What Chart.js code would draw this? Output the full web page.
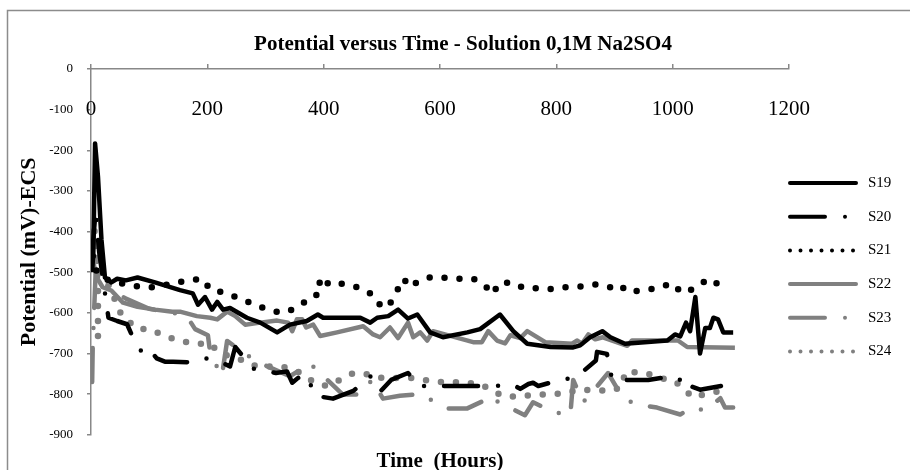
<!DOCTYPE html>
<html>
<head>
<meta charset="utf-8">
<script src="https://cdn.jsdelivr.net/npm/chart.js@4.4.1/dist/chart.umd.min.js"></script>
<style>
  html, body { margin: 0; padding: 0; background: #fff; overflow: hidden; }
</style>
</head>
<body>
<canvas id="canvas" width="910" height="470"></canvas>
<script>
// time in hours, potential in mV vs ECS
const s19Time = [2, 4, 7, 12, 18, 24, 35, 45, 60, 80, 110, 153, 175, 184, 196, 208, 217, 227, 239, 268, 291, 320, 342, 371, 390, 399, 463, 480, 492, 511, 528, 545, 561, 583, 605, 647, 669, 703, 726, 750, 790, 829, 841, 858, 879, 893, 918, 991, 1004, 1013, 1023, 1030, 1039, 1047, 1056, 1064, 1070, 1078, 1087, 1104];
const s19Mv = [-500, -450, -183, -265, -420, -513, -525, -516, -520, -513, -525, -544, -552, -580, -561, -592, -573, -592, -588, -612, -624, -648, -629, -620, -604, -612, -612, -624, -612, -608, -592, -614, -604, -648, -660, -648, -640, -604, -645, -676, -684, -685, -680, -660, -645, -660, -676, -668, -653, -658, -624, -645, -561, -700, -637, -637, -612, -616, -648, -648];

const s20Time = [2, 5, 8, 14, 30, 45, 62, 74, 89, 101, 113, 127, 141, 177, 199, 222, 239, 248, 279, 318, 337, 346, 356, 371, 385, 416, 451, 480, 497, 516, 545, 566, 629, 691, 726, 738, 752, 760, 769, 789, 825, 846, 868, 870, 887, 896, 920, 958, 999, 1013, 1022, 1030, 1047, 1083];
const s20Mv = [-455, -400, -347, -450, -612, -620, -628, -667, -700, -690, -712, -720, -720, -722, -712, -720, -732, -684, -737, -748, -744, -772, -760, -753, -804, -811, -792, -756, -794, -765, -748, -780, -780, -780, -777, -787, -775, -772, -780, -772, -760, -744, -717, -696, -701, -765, -765, -765, -756, -765, -789, -780, -789, -780];

const s21Time = [3, 10, 30, 60, 88, 110, 139, 165, 191, 206, 227, 253, 279, 303, 328, 347, 370, 387, 392, 399, 409, 437, 463, 485, 500, 512, 525, 537, 550, 561, 586, 604, 631, 657, 676, 690, 703, 729, 743, 760, 788, 813, 841, 868, 893, 908, 923, 949, 975, 999, 1016, 1040, 1061, 1082, 1095];
const s21Mv = [-460, -500, -520, -530, -537, -537, -528, -521, -516, -544, -549, -563, -578, -592, -600, -592, -571, -559, -523, -542, -523, -530, -539, -556, -587, -583, -549, -516, -537, -523, -511, -513, -516, -516, -530, -554, -525, -527, -539, -539, -542, -537, -535, -530, -537, -530, -549, -544, -539, -527, -551, -539, -516, -532, -544];

const s22Time = [3, 10, 20, 35, 55, 80, 110, 140, 153, 182, 205, 217, 234, 248, 265, 291, 320, 339, 346, 354, 363, 370, 382, 394, 423, 468, 485, 497, 514, 528, 545, 554, 566, 578, 588, 657, 672, 683, 698, 712, 721, 738, 750, 781, 827, 836, 844, 855, 867, 880, 896, 922, 930, 999, 1009, 1025, 1107];
const s22Mv = [-470, -513, -537, -545, -575, -585, -592, -597, -597, -608, -612, -616, -597, -608, -629, -624, -619, -624, -645, -616, -616, -636, -629, -657, -648, -633, -653, -660, -636, -662, -624, -660, -648, -668, -645, -672, -672, -645, -668, -675, -655, -662, -645, -672, -676, -668, -676, -653, -665, -660, -668, -681, -668, -668, -668, -684, -686];

const s23Time = [2, 3, 8, 29, 60, 100, 140, 160, 170, 179, 201, 205, 225, 234, 285, 342, 377, 433, 463, 483, 502, 531, 566, 612, 647, 674, 681, 746, 760, 793, 824, 829, 846, 863, 889, 915, 939, 973, 1013, 1034, 1056, 1082, 1090, 1104];
const s23Mv = [-770, -680, -500, -537, -565, -590, -600, -605, -620, -640, -655, -700, -756, -669, -720, -756, -725, -801, -801, -765, -811, -804, -800, -835, -835, -817, -805, -852, -820, -843, -852, -765, -820, -793, -748, -811, -825, -833, -850, -833, -840, -810, -833, -833];

const s24Time = [12, 12, 9, 7, 6, 12, 18, 30, 53, 81, 101, 127, 153, 179, 205, 222, 253, 277, 303, 328, 351, 385, 406, 428, 451, 466, 500, 523, 549, 571, 595, 621, 648, 672, 708, 734, 764, 789, 815, 841, 893, 913, 918, 930, 954, 978, 1004, 1035, 1064, 1085];
const s24Mv = [-657, -545, -473, -431, -395, -465, -508, -530, -608, -640, -640, -657, -669, -676, -676, -700, -712, -729, -732, -732, -740, -772, -780, -765, -748, -748, -760, -760, -760, -765, -770, -770, -772, -777, -805, -806, -801, -801, -797, -789, -792, -782, -746, -746, -748, -760, -768, -808, -797, -792];

const seriesNames = ['S19', 'S20', 'S21', 'S22', 'S23', 'S24'];
const xTicks = [0, 200, 400, 600, 800, 1000, 1200];
const chartTitle = 'Potential versus Time - Solution 0,1M Na2SO4';

const BLACK = '#000000';
const GREY = '#808080';
const AXIS = '#888888';
const FONT = '"Liberation Serif", "Times New Roman", serif';

function points(t, v) {
  return t.map((x, i) => ({ x: x, y: v[i] }));
}

// solid, dash-dot, dotted (black then grey)
const DASHDOT = [34, 20, 0, 20];
const DOTS = [0, 15];
const styles = [
  { color: BLACK, dash: [], width: 4.5, cap: 'butt', legendDash: [] },
  { color: BLACK, dash: DASHDOT, width: 4.5, cap: 'round', legendDash: [35, 20, 0, 20] },
  { color: BLACK, dash: DOTS, width: 6.5, cap: 'round', legendDash: [0, 10.5] },
  { color: GREY, dash: [], width: 4.5, cap: 'butt', legendDash: [] },
  { color: GREY, dash: DASHDOT, width: 4.5, cap: 'round', legendDash: [35, 20, 0, 20] },
  { color: GREY, dash: DOTS, width: 6.5, cap: 'round', legendDash: [0, 10.5] },
];

const allData = [
  points(s19Time, s19Mv),
  points(s20Time, s20Mv),
  points(s21Time, s21Mv),
  points(s22Time, s22Mv),
  points(s23Time, s23Mv),
  points(s24Time, s24Mv),
];

const decor = {
  id: 'decor',
  beforeDraw(chart) {
    const ctx = chart.ctx;
    ctx.save();
    ctx.fillStyle = '#fff';
    ctx.fillRect(0, 0, chart.width, chart.height);
    ctx.strokeStyle = '#8c8c8c';
    ctx.lineWidth = 1.5;
    ctx.strokeRect(7.5, 10.5, chart.width, chart.height);
    ctx.restore();
  },
  afterDraw(chart) {
    const ctx = chart.ctx;
    const area = chart.chartArea;
    const xs = chart.scales.x;
    ctx.save();
    ctx.fillStyle = '#000';
    ctx.font = 'bold 21px ' + FONT;
    ctx.textAlign = 'center';
    ctx.textBaseline = 'alphabetic';
    ctx.fillText(chartTitle, 463, 50);

    // x tick labels sit under the top axis line
    ctx.font = '21px ' + FONT;
    xTicks.forEach(v => {
      ctx.fillText(String(v), xs.getPixelForValue(v), 115);
    });

    // legend on the right
    ctx.font = '15px ' + FONT;
    ctx.textAlign = 'left';
    ctx.textBaseline = 'middle';
    seriesNames.forEach((name, i) => {
      const st = styles[i];
      const y = 183 + i * 33.7;
      ctx.beginPath();
      ctx.strokeStyle = st.color;
      ctx.lineWidth = 4;
      ctx.lineCap = 'round';
      ctx.setLineDash(st.legendDash);
      ctx.moveTo(area.right + 1, y);
      ctx.lineTo(area.right + 67, y);
      ctx.stroke();
      ctx.setLineDash([]);
      ctx.fillStyle = '#000';
      ctx.fillText(name, area.right + 79, y);
    });
    ctx.restore();
  }
};

const ctx = document.getElementById('canvas').getContext('2d');
const chart = new Chart(ctx, {
  type: 'line',
  data: {
    datasets: seriesNames.map((name, i) => ({
      label: name,
      data: allData[i],
      borderColor: styles[i].color,
      backgroundColor: 'transparent',
      borderWidth: styles[i].width,
      borderDash: styles[i].dash,
      borderCapStyle: styles[i].cap,
      borderJoinStyle: 'round',
      pointRadius: 0,
      fill: false,
      tension: 0,
    }))
  },
  options: {
    responsive: false,
    animation: false,
    devicePixelRatio: 1,
    layout: { padding: { left: 16, top: 64, right: 121, bottom: 0 } },
    plugins: {
      legend: { display: false },
      title: { display: false },
      tooltip: { enabled: false },
    },
    scales: {
      x: {
        type: 'linear',
        position: 'top',
        min: 0,
        max: 1200,
        ticks: { stepSize: 200, display: false },
        grid: { drawOnChartArea: false, tickLength: 5, color: AXIS, lineWidth: 1.5 },
        border: { color: AXIS, width: 1.5 },
        afterFit: (scale) => { scale.height = 5; },
      },
      x2: {
        type: 'linear',
        position: 'bottom',
        min: 0,
        max: 1200,
        ticks: { display: false },
        grid: { display: false },
        border: { display: false },
        title: {
          display: true,
          text: 'Time  (Hours)',
          color: '#000',
          font: { family: FONT, size: 21, weight: 'bold' },
          padding: { top: 6, bottom: -4 },
        },
      },
      y: {
        type: 'linear',
        min: -900,
        max: 0,
        ticks: {
          stepSize: 100,
          padding: 14,
          color: '#000',
          font: { family: FONT, size: 13 },
        },
        grid: { drawOnChartArea: false, tickLength: 4, color: AXIS, lineWidth: 1.5 },
        border: { color: AXIS, width: 1.5 },
        title: {
          display: true,
          text: 'Potential (mV)-ECS',
          color: '#000',
          font: { family: FONT, size: 22, weight: 'bold' },
          padding: { top: 0, bottom: 0 },
        },
        afterFit: (scale) => { scale.width = 75; },
      }
    }
  },
  plugins: [decor]
});
</script>
</body>
</html>
